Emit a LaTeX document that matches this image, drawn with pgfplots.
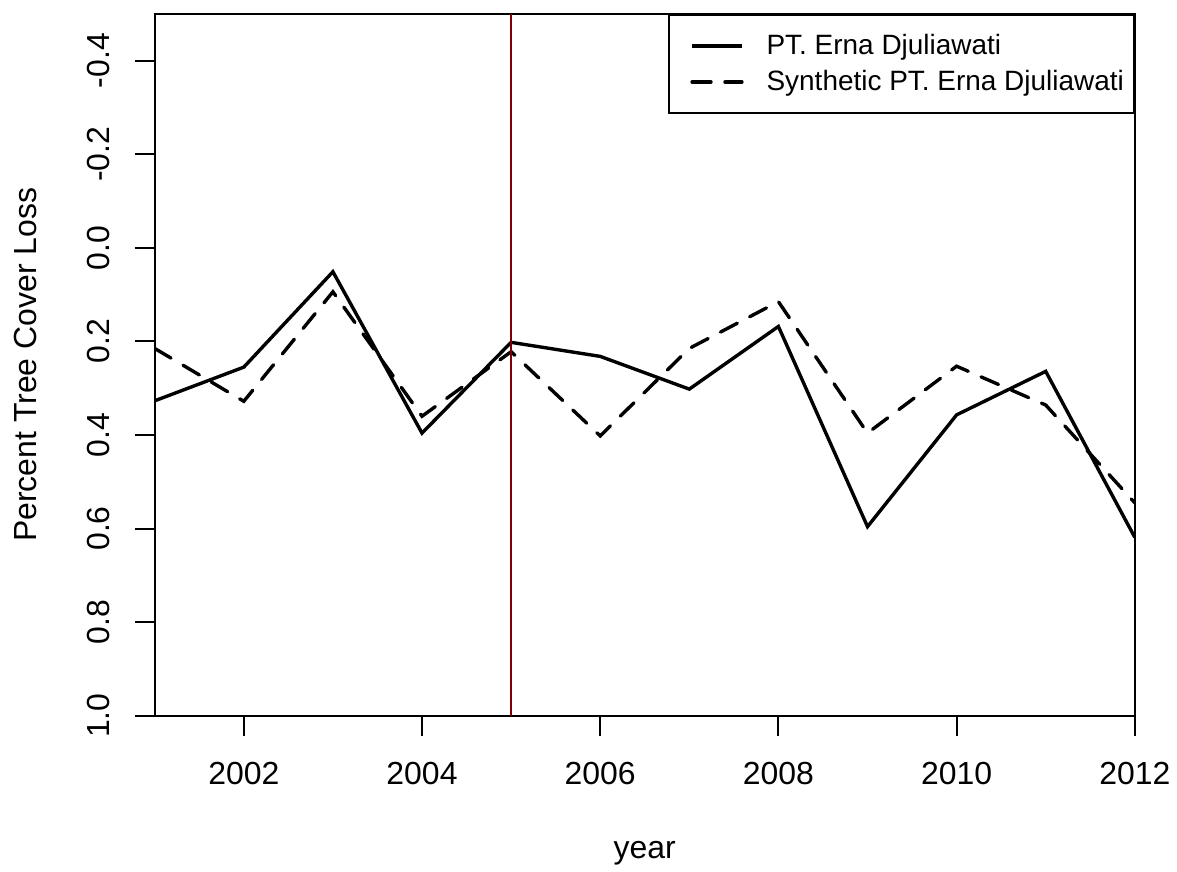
\documentclass[border=0pt]{standalone}
\usepackage{fontspec}
\setmainfont{Liberation Sans}
\usepackage{pgfplots}
\pgfplotsset{compat=1.18}
\definecolor{treatline}{RGB}{128,0,0}

\begin{document}
\begin{tikzpicture}
\begin{axis}[
    scale only axis,
    width=491pt, height=351.5pt,
    xmin=2001, xmax=2012,
    ymin=-0.5, ymax=1.0,
    y dir=reverse,
    xtick={2002,2004,2006,2008,2010,2012},
    xticklabels={2002,2004,2006,2008,2010,2012},
    ytick={-0.4,-0.2,0,0.2,0.4,0.6,0.8,1.0},
    yticklabels={-0.4,-0.2,0.0,0.2,0.4,0.6,0.8,1.0},
    tick align=outside,
    major tick length=10pt,
    xtick pos=bottom, ytick pos=left,
    axis line style={line width=1pt},
    every tick/.style={black, line width=1pt},
    tick label style={font=\fontsize{16}{19}\selectfont},
    xticklabel style={anchor=center, yshift=-18.75pt},
    yticklabel style={rotate=90, anchor=center, yshift=18.25pt},
    label style={font=\fontsize{16}{19}\selectfont},
    xlabel={year},
    xlabel style={at={(axis description cs:0.5,0)}, anchor=base, yshift=-71.5pt},
    ylabel={Percent Tree Cover Loss},
    ylabel style={at={(axis description cs:0,0.5)}, anchor=base, yshift=59pt},
    legend style={at={(1,1)}, anchor=north east, draw=black, line width=1pt,
        font=\fontsize{14}{17}\selectfont, inner xsep=5pt, inner ysep=9.75pt,
        row sep=6.4pt, nodes={inner sep=0pt},
        /tikz/every odd column/.append style={column sep=11.5pt}},
    legend cell align=left,
    legend image code/.code={\path (0pt,0pt); \draw[#1] (5.5pt,0pt) -- (30.5pt,0pt);},
    clip=true,
]
\addplot[black, line width=1.7pt] coordinates {
    (2001,0.327) (2002,0.255) (2003,0.051) (2004,0.396) (2005,0.202) (2006,0.232)
    (2007,0.302) (2008,0.168) (2009,0.596) (2010,0.357) (2011,0.264) (2012,0.619)
};
\addlegendentry{PT. Erna Djuliawati}
\addplot[black, line width=1.7pt, line cap=round, dash pattern=on 9.5pt off 7pt] coordinates {
    (2001,0.215) (2002,0.328) (2003,0.094) (2004,0.360) (2005,0.222) (2006,0.402)
    (2007,0.215) (2008,0.115) (2009,0.396) (2010,0.253) (2011,0.336) (2012,0.545)
};
\addlegendentry{Synthetic PT. Erna Djuliawati}
\draw[treatline, line width=0.9pt] (axis cs:2005,-0.5) -- (axis cs:2005,1.0);
\end{axis}
\path (current axis.south west) ++(-77.5pt,-75pt) coordinate (bbl);
\path (current axis.north east) ++(20pt,7pt) coordinate (bbr);
\path (bbl) rectangle (bbr);
\end{tikzpicture}
\end{document}
